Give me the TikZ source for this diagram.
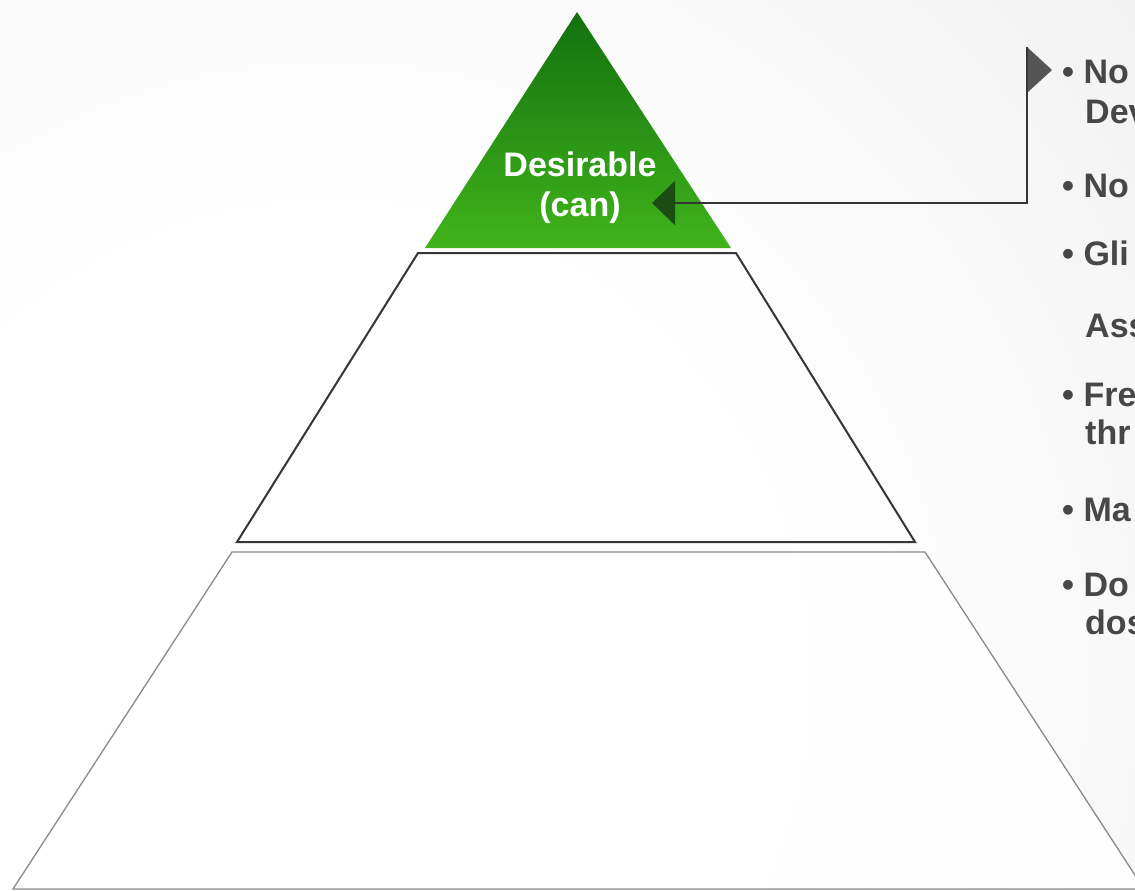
\documentclass[tikz,border=0pt]{standalone}
\usepackage{fontspec}
\setmainfont{Liberation Sans}
\usetikzlibrary{arrows.meta}
\definecolor{bggray}{HTML}{D6D6D6}
\definecolor{bgmid}{HTML}{EDEDED}
\definecolor{gtop}{HTML}{12700F}
\definecolor{gbot}{HTML}{40B41B}
\definecolor{tipgreen}{HTML}{1B4D12}
\definecolor{flaggray}{HTML}{555555}
\definecolor{txtgray}{HTML}{474747}
\definecolor{linedark}{HTML}{353535}
\definecolor{linelight}{HTML}{8A8A8A}
\pgfdeclareradialshading{bgshade}{\pgfpoint{0bp}{0bp}}{color(0bp)=(white); color(10bp)=(white); color(28bp)=(bgmid); color(50bp)=(bggray)}
\tikzset{
  midtrap/.style={draw=linedark, line width=2pt, fill=white, fill opacity=0.8, line join=miter},
  bottrap/.style={draw=linelight, line width=1.3pt, fill=white, fill opacity=0.85},
  toptri/.style={top color=gtop, bottom color=gbot},
  lbl/.style={text=white, font=\fontsize{34}{40}\selectfont\bfseries, align=center, inner sep=0pt},
  itemtxt/.style={text=txtgray, font=\fontsize{34}{38}\selectfont\bfseries, anchor=base west, inner sep=0pt},
  conn/.style={draw=linedark, line width=2pt},
}
\begin{document}
\begin{tikzpicture}[x=1pt,y=-1pt]
\useasboundingbox (0,0) rectangle (1135,891);
\begin{scope}
\clip (0,0) rectangle (1135,891);
\shade[shading=bgshade] (330,680) circle[radius=1150pt];
% pyramid levels
\draw[bottrap] (232,552) -- (925,552) -- (1144,889) -- (13,889) -- cycle;
\draw[midtrap] (418,253) -- (736,253) -- (915,542) -- (237,542) -- cycle;
\shade[toptri] (577,12) -- (731,248) -- (425,248) -- cycle;
\node[lbl, anchor=north] (desir) at (580,152) {Desirable\\(can)};
% text list
\node[itemtxt] (i1a) at (1062,84) {• No};
\node[itemtxt] (i1b) at (1085,123) {Dev};
\node[itemtxt] (i2) at (1062,197) {• No};
\node[itemtxt] (i3a) at (1062,265) {• Gli};
\node[itemtxt] (i3b) at (1085,337) {Ass};
\node[itemtxt] (i4a) at (1062,406) {• Fre};
\node[itemtxt] (i4b) at (1085,444) {thr};
\node[itemtxt] (i5) at (1062,521) {• Ma};
\node[itemtxt] (i6a) at (1062,596) {• Do};
\node[itemtxt] (i6b) at (1085,634) {dos};
% connector
\coordinate (tipL) at (652,203);
\coordinate (flagtop) at (1027,47);
\draw[conn, -{Triangle[length=23pt,width=44pt,color=tipgreen]}] (flagtop) |- (tipL);
\fill[flaggray] (flagtop) ++(1,1) -- ++(24,22) -- ++(-24,22) -- cycle;
\end{scope}
\end{tikzpicture}
\end{document}
